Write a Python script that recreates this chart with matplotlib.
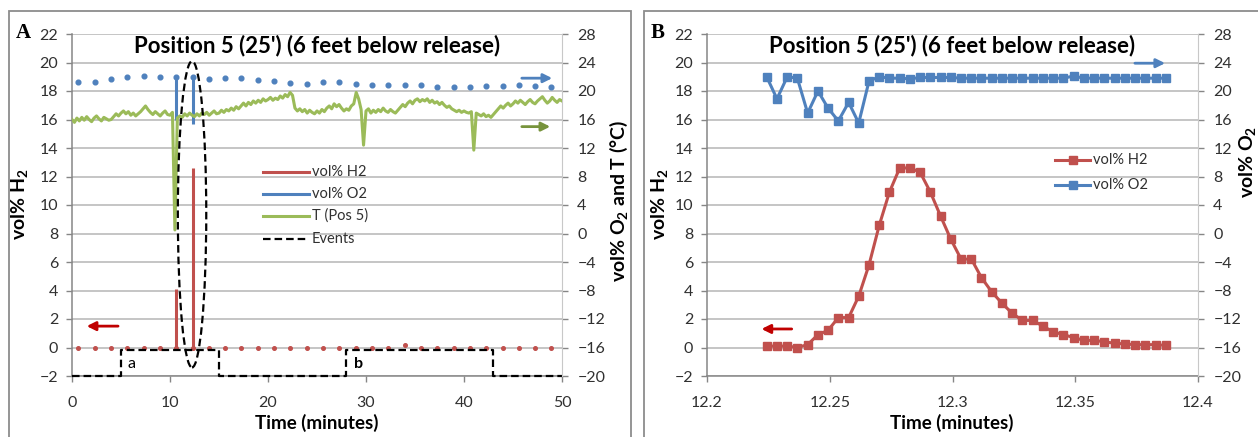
import numpy as np
import matplotlib
matplotlib.use('Agg')
import matplotlib.pyplot as plt
from matplotlib.patches import Ellipse, Rectangle
from matplotlib.lines import Line2D

plt.rcParams['font.family'] = ['Lato', 'DejaVu Sans']
plt.rcParams['mathtext.fontset'] = 'custom'
plt.rcParams['mathtext.rm'] = 'Lato'
plt.rcParams['mathtext.bf'] = 'Lato:bold'
plt.rcParams['mathtext.it'] = 'Lato:italic'

RED = '#C0504D'
BLUE = '#4F81BD'
GREEN = '#9BBB59'

# ---------------- Panel A data ----------------
dot_t = [0.65, 2.31, 3.98, 5.64, 7.31, 8.97, 10.63, 12.30, 13.96, 15.63,
         17.29, 18.95, 20.62, 22.28, 23.95, 25.61, 27.28, 28.94, 30.61, 32.27,
         33.94, 35.60, 37.27, 38.93, 40.60, 42.26, 43.93, 45.59, 47.26, 48.92]
o2_dot = [21.2, 21.2, 21.7, 22.0, 22.1, 21.9, 22.0, 22.0, 21.7, 21.8,
          21.8, 21.5, 21.4, 21.1, 21.0, 21.2, 21.2, 21.0, 20.8, 20.9,
          20.8, 20.8, 20.5, 20.6, 20.6, 20.7, 20.7, 20.8, 20.7, 20.5]
h2_dot = [0.0] * 20 + [0.15] + [0.0] * 9
spike_t = [10.63, 12.30]
h2_spike = [4.1, 12.6]
o2_spike_low = [16.0, 15.4]
o2_spike_high = [22.0, 22.0]

T_time = np.linspace(0, 50, 201)
T_vals = [16.0, 15.6, 16.2, 15.8, 16.3, 15.9, 16.4, 16.0, 15.7, 16.2, 16.5, 16.1, 15.8, 16.3, 16.1, 15.9, 16.0, 16.4, 16.8, 16.5,
          16.9, 17.2, 16.8, 17.1, 16.6, 16.9, 16.5, 16.8, 17.1, 17.5, 17.9, 17.4, 17.0, 16.7, 17.1, 16.8, 16.5, 16.9, 17.2, 16.7,
          16.6, 17.0, 0.5, 16.2, 16.5, 16.3, 16.8, 16.5, 16.9, 16.6, 16.4, 16.8, 16.5, 16.9, 16.7, 17.0, 16.6, 16.9, 17.2, 16.8,
          16.9, 17.3, 17.0, 17.4, 17.2, 17.6, 17.3, 17.8, 17.5, 17.9, 18.3, 17.9, 18.4, 18.1, 18.6, 18.3, 18.7, 18.4, 18.9, 18.6,
          18.8, 19.1, 18.7, 19.0, 18.8, 19.3, 19.0, 19.5, 19.2, 19.8, 19.4, 17.6, 17.2, 17.5, 17.1, 17.4, 16.9, 17.3, 17.0, 16.8,
          17.2, 16.9, 17.4, 17.1, 17.6, 17.9, 17.5, 18.2, 17.8, 18.1, 17.6, 17.2, 17.5, 17.3, 17.9, 18.2, 19.8, 18.9, 17.4, 12.4,
          17.2, 17.5, 16.9, 17.3, 17.0, 17.4, 17.1, 17.6, 17.2, 17.0, 17.4, 17.1, 16.9, 17.3, 17.7, 18.1, 17.8, 18.3, 18.6, 18.2,
          18.7, 18.9, 18.5, 18.8, 18.6, 18.9, 18.4, 18.7, 18.3, 18.5, 18.1, 18.4, 18.0, 17.7, 17.9, 17.5, 17.3, 17.1, 17.3, 17.0,
          17.2, 17.0, 16.9, 17.1, 11.7, 16.9, 16.7, 16.5, 16.8, 16.4, 16.6, 16.3, 16.7, 17.1, 17.5, 17.9, 17.6, 18.0, 18.3, 17.9,
          18.2, 18.6, 18.3, 18.7, 18.4, 18.1, 18.5, 18.8, 18.4, 18.2, 18.6, 18.9, 19.2, 18.7, 18.3, 18.6, 19.1, 18.7, 18.4, 18.8,
          18.6]

event_t = [0, 5, 5, 15, 15, 28, 28, 43, 43, 50]
event_v = [-2, -2, -0.2, -0.2, -2, -2, -0.2, -0.2, -2, -2]
event_labels = ['a', 'b']
event_label_t = [6.1, 29.2]

# ---------------- Panel B data ----------------
tB = [12.2243, 12.2285, 12.2327, 12.2368, 12.2410, 12.2452, 12.2493, 12.2535, 12.2577, 12.2618,
      12.2660, 12.2702, 12.2743, 12.2785, 12.2827, 12.2868, 12.2910, 12.2952, 12.2993, 12.3035,
      12.3077, 12.3118, 12.3160, 12.3202, 12.3243, 12.3285, 12.3327, 12.3368, 12.3410, 12.3452,
      12.3493, 12.3535, 12.3577, 12.3618, 12.3660, 12.3702, 12.3743, 12.3785, 12.3827, 12.3868]
h2B = [0.1, 0.1, 0.1, 0.0, 0.2, 0.9, 1.2, 2.1, 2.1, 3.6,
       5.8, 8.6, 10.9, 12.6, 12.6, 12.3, 10.9, 9.2, 7.6, 6.2,
       6.2, 4.9, 3.9, 3.1, 2.4, 1.9, 1.9, 1.5, 1.1, 0.9,
       0.7, 0.5, 0.5, 0.4, 0.3, 0.25, 0.2, 0.2, 0.2, 0.15]
o2B = [22.0, 18.9, 22.0, 21.8, 16.9, 20.0, 17.6, 15.8, 18.4, 15.5,
       21.4, 22.0, 21.8, 21.8, 21.7, 21.9, 21.9, 21.9, 21.9, 21.8,
       21.8, 21.8, 21.8, 21.8, 21.8, 21.8, 21.8, 21.8, 21.8, 21.8,
       22.1, 21.8, 21.8, 21.8, 21.8, 21.8, 21.8, 21.8, 21.8, 21.8]

title = "Position 5 (25') (6 feet below release)"
legend_A = ['vol% H2', 'vol% O2', 'T (Pos 5)', 'Events']
legend_B = ['vol% H2', 'vol% O2']

# ---------------- Figure ----------------
W, H = 1258, 437
fig = plt.figure(figsize=(W / 100, H / 100), dpi=100)


def px_ax(l, t, r, b):
    return fig.add_axes([l / W, 1 - b / H, (r - l) / W, (b - t) / H])


def fx(x):
    return x / W


def fy(y):
    return 1 - y / H


# panel frames
for (l, r) in [(9, 631), (644, 1265)]:
    fig.add_artist(Rectangle((fx(l), -0.1), (r - l) / W, fy(11) + 0.1,
                             transform=fig.transFigure, fill=False,
                             ec='#8c8c8c', lw=1.3))

TICKC = '#868686'
LABC = '#303030'
DASH = (0, (3.4, 1.8))


def style(ax, ax2, xcenter):
    ax.set_ylim(-2, 22)
    ax.set_yticks(range(-2, 23, 2))
    ax2.set_ylim(-20, 28)
    ax2.set_yticks(range(-20, 29, 4))
    ax.grid(axis='y', color='#b5b5b5', lw=1.1)
    ax.set_axisbelow(True)
    for s in ['top', 'right']:
        ax.spines[s].set_visible(False)
    for s in ['top', 'left', 'bottom']:
        ax2.spines[s].set_visible(False)
    ax.spines['left'].set_color(TICKC)
    ax.spines['bottom'].set_color(TICKC)
    ax.spines['left'].set_linewidth(1.1)
    ax.spines['bottom'].set_linewidth(1.1)
    ax2.spines['right'].set_color('#c8c8c8')
    ax.tick_params(axis='y', direction='out', length=4, width=1, color=TICKC,
                   labelsize=11.5, labelcolor=LABC, pad=6)
    ax.tick_params(axis='x', direction='out', length=4, width=1, color=TICKC,
                   labelsize=11.5, labelcolor=LABC, pad=10.5)
    ax2.tick_params(axis='y', direction='out', length=4, width=1, color=TICKC,
                    labelsize=11.5, labelcolor=LABC, pad=7)
    ax.text(0.5, 0.966, title, transform=ax.transAxes, ha='center', va='center',
            fontsize=16, fontweight='bold', color='black', zorder=10)
    fig.text(fx(xcenter), fy(423), 'Time (minutes)', ha='center', va='center',
             fontsize=13.5, fontweight='bold')


def manual_legend(handles, labels, x0, x1, xt, rows):
    for h, lab, yy in zip(handles, labels, rows):
        line_kw = {k: v for k, v in h.items() if k not in ('marker', 'ms')}
        fig.add_artist(Line2D([fx(x0), fx(x1)], [fy(yy), fy(yy)],
                              transform=fig.transFigure, **line_kw))
        if 'marker' in h:
            fig.add_artist(Line2D([fx((x0 + x1) / 2)], [fy(yy)], ls='none',
                                  marker=h['marker'], ms=h['ms'], color=h['color'],
                                  transform=fig.transFigure))
        fig.text(fx(xt), fy(yy), lab, ha='left', va='center', fontsize=10.5,
                 color=LABC)


# ---- Panel A ----
axA = px_ax(72, 34, 562, 376)
axA2 = axA.twinx()
style(axA, axA2, 317)
axA.set_xlim(0, 50)
axA.set_xticks(range(0, 51, 10))

axA.plot(dot_t, h2_dot, ls='none', marker='o', ms=2.6, color=RED, zorder=3)
axA.vlines(spike_t, 0, h2_spike, color=RED, lw=2.2, zorder=3)
axA.plot(event_t, event_v, color='black', ls=DASH, lw=1.6, clip_on=False, zorder=5)
for lab, lt in zip(event_labels, event_label_t):
    axA.text(lt, -1.15, lab, fontsize=11.5, ha='center', va='center',
             fontweight='bold' if lab == 'b' else 'normal')

axA2.plot(dot_t, o2_dot, ls='none', marker='o', ms=3.4, color=BLUE, zorder=3)
axA2.vlines(spike_t, o2_spike_low, o2_spike_high, color=BLUE, lw=2.2, zorder=3)
axA2.plot(T_time, T_vals, color=GREEN, lw=2.2, zorder=4)
axA2.add_patch(Ellipse((12.25, 9.35), 2.9, 21.5, transform=axA.transData,
                       fill=False, ec='black', lw=1.6, ls=DASH, zorder=6))

# arrows (left-axis units)
arr = dict(arrowstyle='-|>', lw=2.0, mutation_scale=13, shrinkA=0, shrinkB=0)
axA2.annotate('', xy=(1.5, 1.5), xytext=(4.7, 1.5), xycoords=axA.transData,
              textcoords=axA.transData, arrowprops=dict(arr, color='#C00000'))
axA2.annotate('', xy=(49.0, 18.9), xytext=(45.9, 18.9), xycoords=axA.transData,
              textcoords=axA.transData, arrowprops=dict(arr, color=BLUE))
axA2.annotate('', xy=(48.8, 15.5), xytext=(45.9, 15.5), xycoords=axA.transData,
              textcoords=axA.transData, arrowprops=dict(arr, color='#77933C'))

manual_legend([dict(color=RED, lw=2.2), dict(color=BLUE, lw=2.2),
               dict(color=GREEN, lw=2.2), dict(color='black', lw=1.6, ls=DASH)],
              legend_A, 263, 309, 312, [172, 194, 216, 239])

# ---- Panel B ----
axB = px_ax(707, 34, 1198, 376)
axB2 = axB.twinx()
style(axB, axB2, 952)
axB.set_xlim(12.2, 12.4)
axB.set_xticks([12.2, 12.25, 12.3, 12.35, 12.4])
axB.set_xticklabels(['12.2', '12.25', '12.3', '12.35', '12.4'])

axB.plot(tB, h2B, color=RED, lw=2.2, marker='s', ms=6.3, zorder=3)
axB2.plot(tB, o2B, color=BLUE, lw=2.2, marker='s', ms=6.3, zorder=3)

axB2.annotate('', xy=(12.2222, 1.3), xytext=(12.2345, 1.3), xycoords=axB.transData,
              textcoords=axB.transData, arrowprops=dict(arr, color='#C00000'))
axB2.annotate('', xy=(12.3866, 19.95), xytext=(12.3743, 19.95), xycoords=axB.transData,
              textcoords=axB.transData, arrowprops=dict(arr, color=BLUE))

manual_legend([dict(color=RED, lw=2.2, marker='s', ms=6.3),
               dict(color=BLUE, lw=2.2, marker='s', ms=6.3)],
              legend_B, 1055, 1090, 1093, [160, 185])

# axis titles and panel labels
fig.text(fx(20), fy(204), r'vol% H$_\mathbf{2}$', rotation=90, ha='center',
         va='center', fontsize=14, fontweight='bold')
fig.text(fx(619), fy(201), r'vol% O$_\mathbf{2}$ and T (°C)', rotation=90,
         ha='center', va='center', fontsize=14, fontweight='bold')
fig.text(fx(659), fy(204), r'vol% H$_\mathbf{2}$', rotation=90, ha='center',
         va='center', fontsize=14, fontweight='bold')
fig.text(fx(1247), fy(162), r'vol% O$_\mathbf{2}$', rotation=90, ha='center',
         va='center', fontsize=14, fontweight='bold')
fig.text(fx(23), fy(33), 'A', family='Liberation Serif', fontweight='bold',
         fontsize=15, ha='center', va='center')
fig.text(fx(658), fy(33), 'B', family='Liberation Serif', fontweight='bold',
         fontsize=15, ha='center', va='center')

fig.savefig('out.png', dpi=100)
